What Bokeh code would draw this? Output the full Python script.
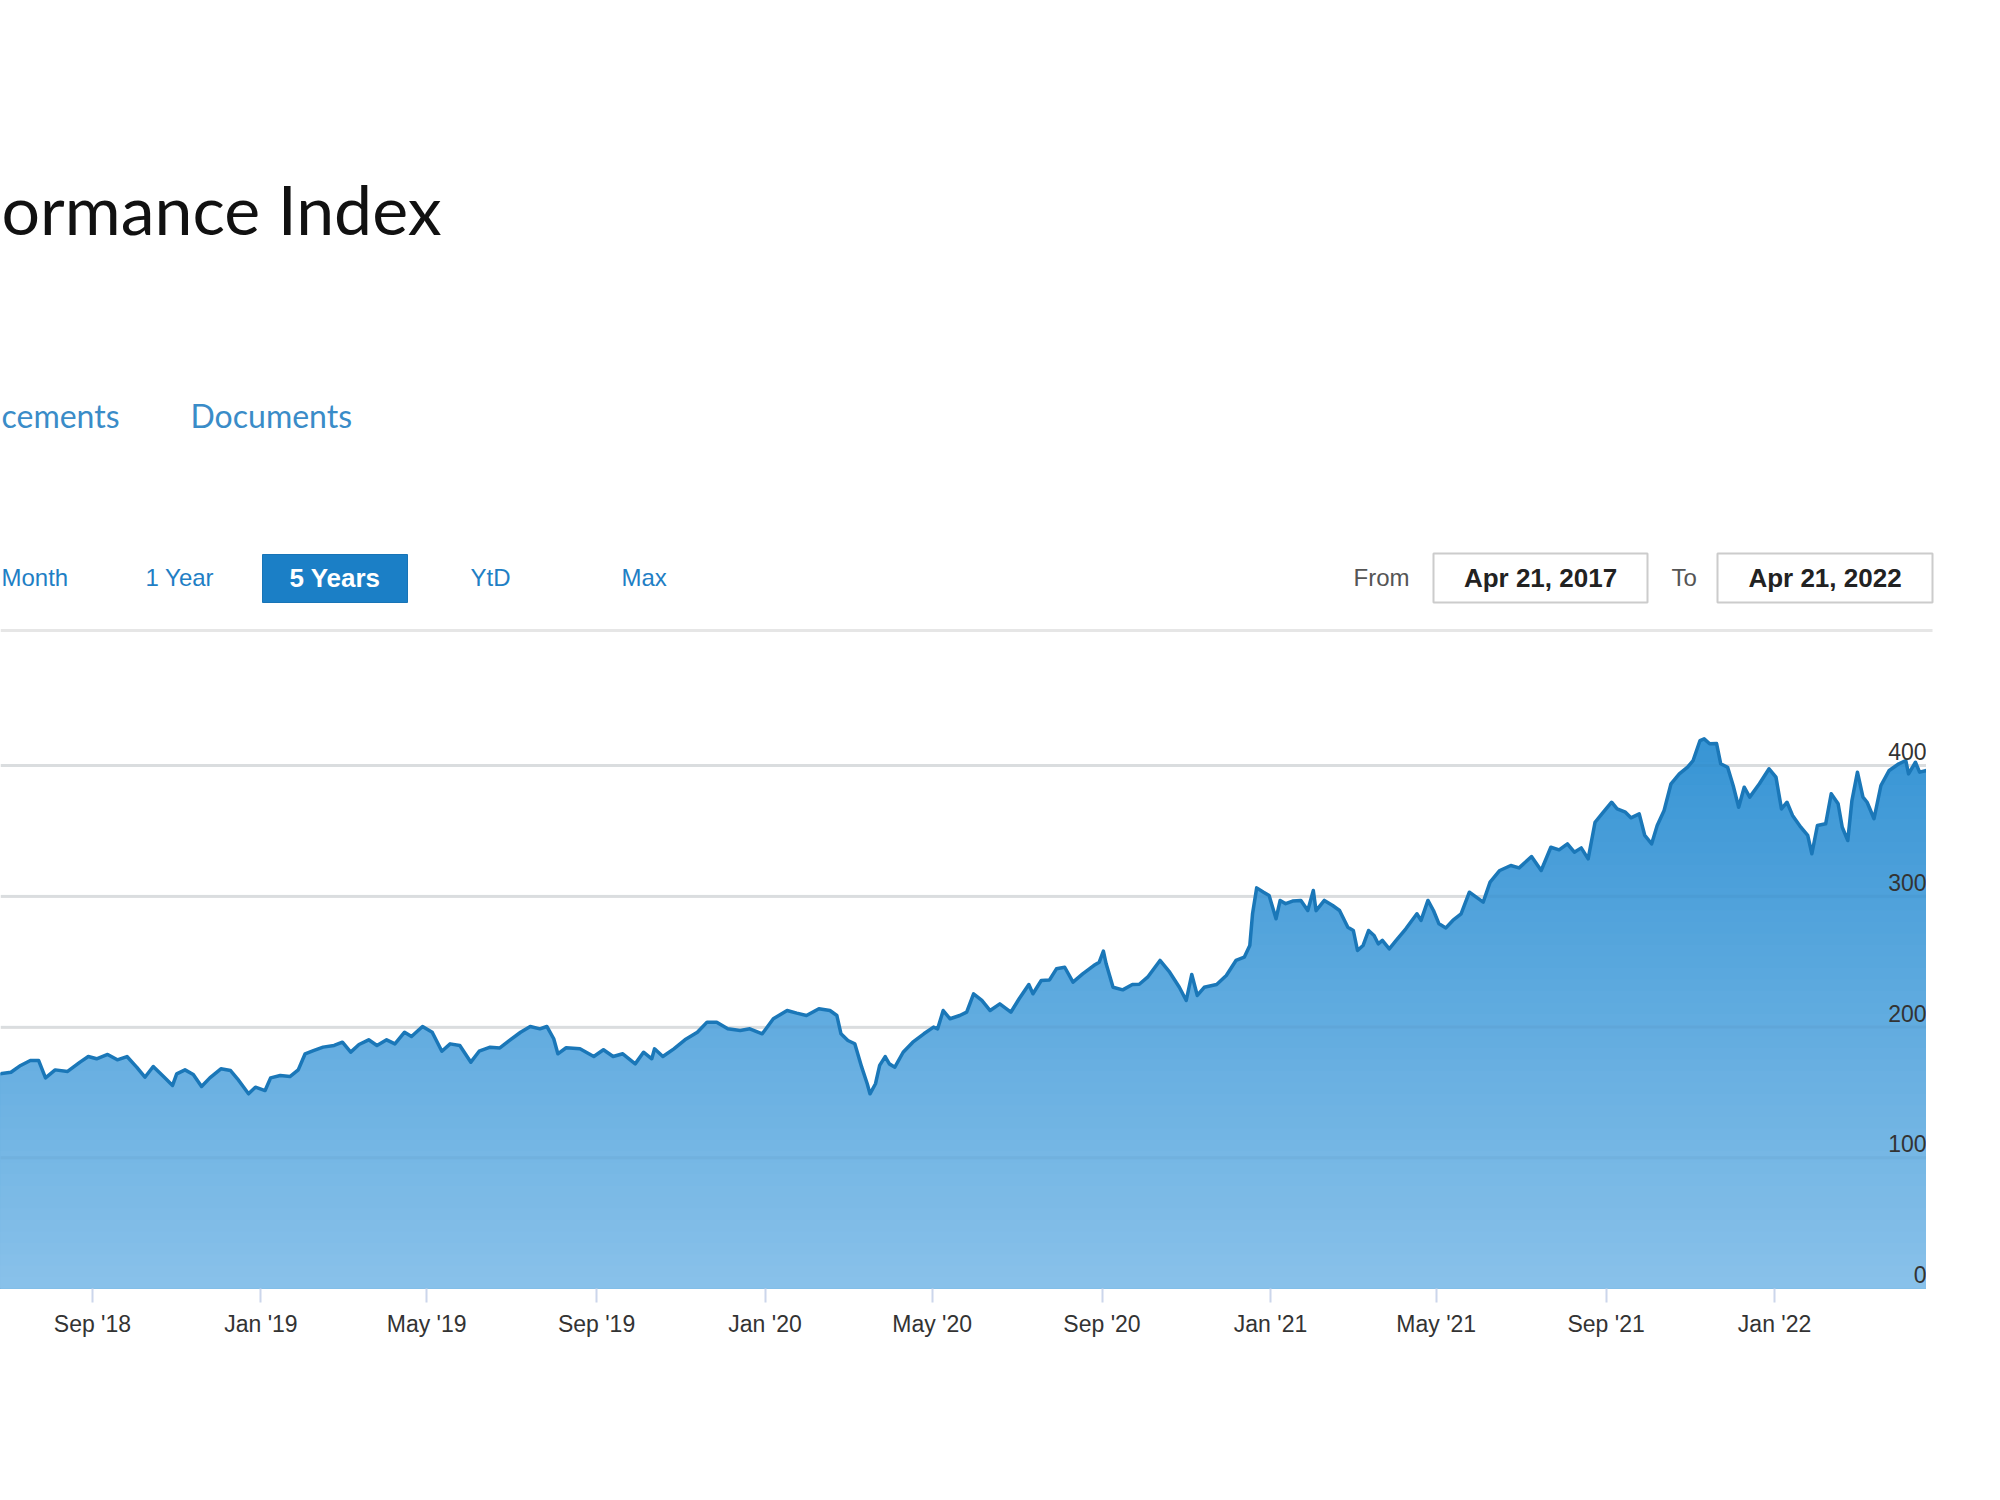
import numpy as np
import pandas as pd
from bokeh.plotting import figure
from bokeh.layouts import column
from bokeh.models import Range1d, FixedTicker, Grid
from bokeh.core.properties import value
from bokeh.embed import file_html
from bokeh.resources import INLINE

# ---------------- texts (as visible in the cropped picture) ----------------
title_text = "ormance Index"
nav_tabs = ["cements", "Documents"]
range_buttons = ["Month", "1 Year", "5 Years", "YtD", "Max"]
from_label, to_label = "From", "To"
from_date, to_date = "Apr 21, 2017", "Apr 21, 2022"

# ---------------- axes ----------------
tick_dates = ["2018-09-01", "2019-01-01", "2019-05-01", "2019-09-01", "2020-01-01", "2020-05-01",
              "2020-09-01", "2021-01-01", "2021-05-01", "2021-09-01", "2022-01-01"]
tick_labels = ["Sep '18", "Jan '19", "May '19", "Sep '19", "Jan '20", "May '20",
               "Sep '20", "Jan '21", "May '21", "Sep '21", "Jan '22"]
y_ticks = [0, 100, 200, 300, 400]
y_tick_labels = ["0", "100", "200", "300", "400"]

# ---------------- series ----------------
dates = [
    "2018-06-26", "2018-07-04", "2018-07-11", "2018-07-18", "2018-07-24", "2018-07-29", "2018-08-05", "2018-08-14",
    "2018-08-23", "2018-08-29", "2018-09-04", "2018-09-12", "2018-09-19", "2018-09-26", "2018-10-03", "2018-10-09",
    "2018-10-15", "2018-10-23", "2018-10-29", "2018-11-01", "2018-11-07", "2018-11-13", "2018-11-19", "2018-11-25",
    "2018-12-03", "2018-12-10", "2018-12-15", "2018-12-23", "2018-12-28", "2019-01-04", "2019-01-08", "2019-01-15",
    "2019-01-22", "2019-01-28", "2019-02-02", "2019-02-08", "2019-02-15", "2019-02-23", "2019-03-01", "2019-03-07",
    "2019-03-13", "2019-03-20", "2019-03-26", "2019-04-02", "2019-04-08", "2019-04-15", "2019-04-20", "2019-04-28",
    "2019-05-05", "2019-05-12", "2019-05-18", "2019-05-25", "2019-06-02", "2019-06-08", "2019-06-16", "2019-06-23",
    "2019-06-30", "2019-07-08", "2019-07-15", "2019-07-22", "2019-07-27", "2019-08-01", "2019-08-04", "2019-08-10",
    "2019-08-20", "2019-08-30", "2019-09-06", "2019-09-13", "2019-09-20", "2019-09-29", "2019-10-05", "2019-10-11",
    "2019-10-13", "2019-10-19", "2019-10-27", "2019-11-04", "2019-11-13", "2019-11-20", "2019-11-27", "2019-12-05",
    "2019-12-14", "2019-12-21", "2019-12-30", "2020-01-07", "2020-01-17", "2020-01-24", "2020-01-31", "2020-02-09",
    "2020-02-17", "2020-02-22", "2020-02-25", "2020-03-01", "2020-03-06", "2020-03-11", "2020-03-15", "2020-03-17",
    "2020-03-21", "2020-03-24", "2020-03-28", "2020-03-31", "2020-04-04", "2020-04-10", "2020-04-17", "2020-04-25",
    "2020-05-02", "2020-05-05", "2020-05-09", "2020-05-14", "2020-05-21", "2020-05-26", "2020-05-31", "2020-06-06",
    "2020-06-12", "2020-06-19", "2020-06-27", "2020-07-03", "2020-07-10", "2020-07-13", "2020-07-19", "2020-07-25",
    "2020-07-30", "2020-08-05", "2020-08-11", "2020-08-18", "2020-08-26", "2020-08-30", "2020-09-02", "2020-09-04",
    "2020-09-09", "2020-09-16", "2020-09-23", "2020-09-28", "2020-10-04", "2020-10-13", "2020-10-20", "2020-10-27",
    "2020-11-01", "2020-11-05", "2020-11-09", "2020-11-14", "2020-11-23", "2020-11-30", "2020-12-07", "2020-12-13",
    "2020-12-17", "2020-12-19", "2020-12-22", "2020-12-27", "2020-12-31", "2021-01-05", "2021-01-08", "2021-01-12",
    "2021-01-17", "2021-01-23", "2021-01-28", "2021-02-01", "2021-02-03", "2021-02-09", "2021-02-15", "2021-02-20",
    "2021-02-26", "2021-03-02", "2021-03-05", "2021-03-09", "2021-03-13", "2021-03-17", "2021-03-20", "2021-03-23",
    "2021-03-28", "2021-04-02", "2021-04-09", "2021-04-17", "2021-04-20", "2021-04-25", "2021-04-29", "2021-05-03",
    "2021-05-08", "2021-05-13", "2021-05-19", "2021-05-25", "2021-05-30", "2021-06-04", "2021-06-09", "2021-06-16",
    "2021-06-24", "2021-06-30", "2021-07-09", "2021-07-16", "2021-07-23", "2021-07-29", "2021-08-04", "2021-08-09",
    "2021-08-14", "2021-08-19", "2021-08-24", "2021-08-30", "2021-09-05", "2021-09-09", "2021-09-15", "2021-09-19",
    "2021-09-25", "2021-09-29", "2021-10-04", "2021-10-08", "2021-10-13", "2021-10-18", "2021-10-24", "2021-10-30",
    "2021-11-03", "2021-11-08", "2021-11-11", "2021-11-15", "2021-11-20", "2021-11-23", "2021-11-28", "2021-12-02",
    "2021-12-06", "2021-12-10", "2021-12-14", "2021-12-21", "2021-12-28", "2022-01-02", "2022-01-06", "2022-01-10",
    "2022-01-14", "2022-01-20", "2022-01-25", "2022-01-28", "2022-02-01", "2022-02-07", "2022-02-11", "2022-02-16",
    "2022-02-19", "2022-02-23", "2022-02-26", "2022-03-02", "2022-03-06", "2022-03-09", "2022-03-14", "2022-03-19",
    "2022-03-25", "2022-04-01", "2022-04-06", "2022-04-08", "2022-04-13", "2022-04-16", "2022-04-21",
]
index_values = [
    164.2, 165.4, 170.6, 174.4, 174.4, 161.1, 167.2, 166.0,
    173.1, 177.4, 175.7, 179.0, 174.9, 177.4, 169.3, 161.6,
    169.8, 161.6, 155.3, 164.2, 167.2, 163.7, 154.5, 161.1,
    168.0, 166.7, 160.4, 148.9, 154.0, 151.4, 161.1, 162.9,
    162.1, 167.2, 179.5, 182.0, 184.6, 185.9, 188.4, 180.8,
    186.6, 190.2, 185.9, 190.2, 187.1, 196.0, 192.7, 200.4,
    196.0, 181.5, 187.1, 185.9, 173.1, 181.5, 184.6, 184.0,
    189.7, 196.0, 200.4, 198.6, 200.4, 191.0, 179.5, 184.1,
    183.3, 177.4, 182.6, 177.4, 179.5, 171.8, 180.7, 175.7,
    183.3, 177.4, 183.3, 190.2, 196.0, 203.7, 203.7, 198.6,
    197.3, 198.6, 194.8, 206.3, 212.6, 210.6, 208.8, 213.9,
    212.6, 208.8, 194.8, 189.7, 187.2, 169.3, 156.6, 148.9,
    156.6, 170.6, 177.4, 171.8, 169.3, 180.7, 188.4, 194.8,
    199.9, 198.6, 212.6, 206.3, 208.8, 211.4, 225.4, 220.3,
    212.6, 217.7, 211.3, 221.6, 232.5, 225.4, 235.6, 236.0,
    244.5, 245.7, 234.3, 240.6, 247.0, 249.6, 258.0, 248.3,
    230.4, 228.4, 232.5, 232.7, 238.1, 250.9, 241.9, 230.4,
    220.3, 240.2, 224.1, 230.4, 232.5, 239.4, 250.9, 253.4,
    262.3, 286.6, 306.4, 303.1, 300.6, 282.8, 296.8, 294.3,
    296.3, 296.8, 289.1, 304.4, 289.0, 296.8, 292.9, 289.1,
    276.3, 273.8, 258.5, 262.3, 273.8, 270.0, 263.6, 266.2,
    259.8, 266.2, 275.1, 286.6, 281.5, 296.8, 289.1, 278.9,
    275.8, 281.5, 286.6, 303.1, 299.3, 295.5, 310.8, 319.7,
    323.5, 321.7, 330.4, 319.7, 337.5, 335.5, 340.1, 333.7,
    337.0, 328.6, 356.6, 364.3, 371.9, 366.8, 364.3, 360.0,
    363.0, 346.5, 340.1, 354.1, 365.6, 386.0, 393.6, 398.7,
    403.8, 419.1, 420.4, 416.6, 416.8, 401.3, 398.7, 384.7,
    368.1, 383.4, 375.8, 386.0, 397.5, 391.1, 366.8, 371.9,
    361.8, 352.8, 346.5, 332.5, 354.1, 355.4, 378.4, 370.7,
    352.8, 342.6, 373.2, 394.9, 375.8, 371.9, 359.3, 384.7,
    396.2, 401.3, 403.8, 393.6, 402.5, 394.9, 396.2,
]
assert len(dates) == len(index_values)

# ---------------- styling ----------------
HEAD_FONT = "Lato"
SANS = "Liberation Sans"
BLUE_TXT = "#1f7fc5"
W = 2000
HEAD_H = 640

# ---------------- header figure (pixel coordinates, y downwards) ----------------
head = figure(width=W, height=HEAD_H, x_range=Range1d(0, W), y_range=Range1d(HEAD_H, 0),
              output_backend="svg", toolbar_location=None, min_border=0,
              x_axis_location=None, y_axis_location=None)
head.grid.visible = False
head.outline_line_color = None
head.background_fill_color = "white"
head.border_fill_color = "white"

head.text(x=[1], y=[208], text=[title_text], text_align="left", text_baseline="middle",
          text_font=value(HEAD_FONT), text_font_size="68px", text_color="#111111")
head.text(x=[1], y=[415], text=[nav_tabs[0]], text_align="left", text_baseline="middle",
          text_font=value(HEAD_FONT), text_font_size="32px", text_color="#3a8cc8")
head.text(x=[190], y=[415], text=[nav_tabs[1]], text_align="left", text_baseline="middle",
          text_font=value(HEAD_FONT), text_font_size="32px", text_color="#3a8cc8")

row_y = 577
head.text(x=[1], y=[row_y], text=[range_buttons[0]], text_align="left", text_baseline="middle",
          text_font=value(SANS), text_font_size="24px", text_color=BLUE_TXT)
head.text(x=[145], y=[row_y], text=[range_buttons[1]], text_align="left", text_baseline="middle",
          text_font=value(SANS), text_font_size="24px", text_color=BLUE_TXT)
head.quad(left=[262], right=[407], top=[554], bottom=[602], fill_color="#1b7fc6", line_color="#1874b6", line_width=1)
head.text(x=[334.5], y=[row_y], text=[range_buttons[2]], text_align="center", text_baseline="middle",
          text_font=value(SANS), text_font_size="26px", text_font_style="bold", text_color="white")
head.text(x=[470], y=[row_y], text=[range_buttons[3]], text_align="left", text_baseline="middle",
          text_font=value(SANS), text_font_size="24px", text_color=BLUE_TXT)
head.text(x=[621], y=[row_y], text=[range_buttons[4]], text_align="left", text_baseline="middle",
          text_font=value(SANS), text_font_size="24px", text_color=BLUE_TXT)

head.text(x=[1353], y=[row_y], text=[from_label], text_align="left", text_baseline="middle",
          text_font=value(SANS), text_font_size="24px", text_color="#555555")
head.quad(left=[1433], right=[1647], top=[553], bottom=[602], fill_color="white", line_color="#cccccc", line_width=2)
head.text(x=[1540], y=[row_y], text=[from_date], text_align="center", text_baseline="middle",
          text_font=value(SANS), text_font_size="26px", text_font_style="bold", text_color="#222222")
head.text(x=[1671], y=[row_y], text=[to_label], text_align="left", text_baseline="middle",
          text_font=value(SANS), text_font_size="24px", text_color="#555555")
head.quad(left=[1717], right=[1932], top=[553], bottom=[602], fill_color="white", line_color="#cccccc", line_width=2)
head.text(x=[1824.5], y=[row_y], text=[to_date], text_align="center", text_baseline="middle",
          text_font=value(SANS), text_font_size="26px", text_font_style="bold", text_color="#222222")

head.line(x=[0, 1932], y=[630, 630], line_color="#e6e6e6", line_width=3)

# ---------------- chart figure ----------------
CH_W = 1926
CH_H = 1500 - HEAD_H
PX_PER_UNIT = 1.3075
TOP_BORDER, BOTTOM_BORDER = 10, 212
frame_h = CH_H - TOP_BORDER - BOTTOM_BORDER
y_end = frame_h / PX_PER_UNIT

x_start = pd.Timestamp("2018-06-26 10:00")
x_end = pd.Timestamp("2022-04-21")

p = figure(width=CH_W, height=CH_H, x_axis_type="datetime",
           x_range=Range1d(x_start, x_end), y_range=Range1d(0, y_end),
           output_backend="svg", toolbar_location=None,
           min_border_left=0, min_border_right=0,
           min_border_top=TOP_BORDER, min_border_bottom=BOTTOM_BORDER,
           y_axis_location=None)
p.grid.visible = False
p.outline_line_color = None
p.background_fill_color = "white"
p.border_fill_color = "white"

ygrid = Grid(dimension=1, ticker=FixedTicker(ticks=y_ticks), grid_line_color="#e6e6e6", grid_line_width=3)
p.add_layout(ygrid)

xs = pd.to_datetime(dates)
vals = np.array(index_values, dtype=float)

# vertical gradient fill, painted as stacked bands under the curve
c_top = np.array([0x38, 0x95, 0xd5], dtype=float)
c_bot = np.array([0x8a, 0xc2, 0xea], dtype=float)
top_val = vals.max()
N = 48
for k in range(N, 0, -1):
    lvl = top_val * k / N
    t = k / N
    c = c_bot + (c_top - c_bot) * t
    col = "#%02x%02x%02x" % tuple(int(round(v)) for v in c)
    p.varea(x=xs, y1=0, y2=np.minimum(vals, lvl), fill_color=col)

# faint grid lines showing through the filled area
p.segment(x0=[x_start] * 4, x1=[x_end] * 4, y0=y_ticks[1:], y1=y_ticks[1:],
          line_color="#1b4f7a", line_alpha=0.06, line_width=3)

p.line(xs, vals, line_color="#1a77b8", line_width=3.5, line_join="round")

# y tick labels inside the plot, right aligned, sitting just above their grid lines
p.text(x=[x_end] * len(y_ticks), y=y_ticks, text=y_tick_labels, text_align="right",
       text_baseline="middle", y_offset=-14, x_offset=0,
       text_font=value(SANS), text_font_size="23px", text_color="#333333")

tick_ms = [pd.Timestamp(d).value / 1e6 for d in tick_dates]
p.xaxis.ticker = FixedTicker(ticks=tick_ms)
p.xaxis.major_label_overrides = {t: lab for t, lab in zip(tick_ms, tick_labels)}
p.xaxis.axis_line_color = None
p.xaxis.major_tick_line_color = "#ccd6eb"
p.xaxis.major_tick_line_width = 2
p.xaxis.major_tick_in = 0
p.xaxis.major_tick_out = 14
p.xaxis.minor_tick_line_color = None
p.xaxis.major_label_standoff = 8
p.xaxis.major_label_text_font = SANS
p.xaxis.major_label_text_font_size = "23px"
p.xaxis.major_label_text_color = "#333333"

layout = column(head, p, spacing=0)
open("out.html", "w").write(file_html(layout, INLINE))
